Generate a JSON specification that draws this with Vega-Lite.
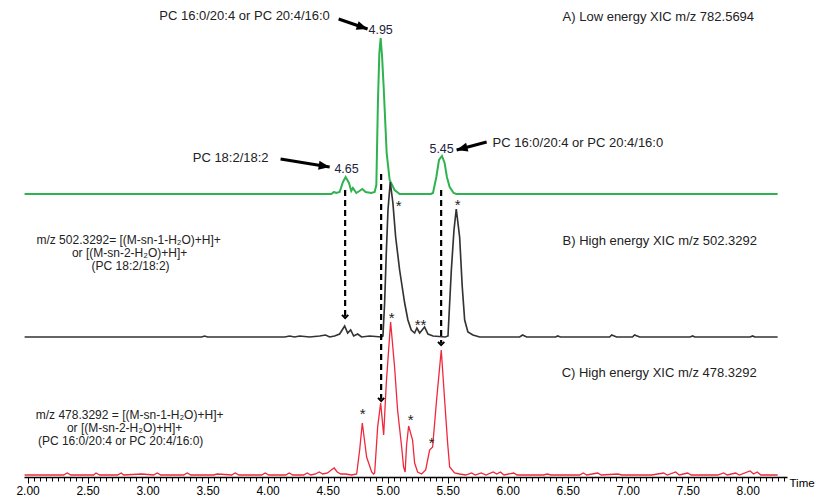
{
  "$schema": "https://vega.github.io/schema/vega-lite/v6.json",
  "width": 763,
  "height": 477,
  "autosize": {"type": "none"},
  "padding": {"left": 24, "top": 0, "right": 28, "bottom": 25},
  "background": "white",
  "config": {"view": {"stroke": null}, "font": "Liberation Sans"},
  "datasets": {
    "traces": [
      {"trace":"A","t":1.975,"v":283},{"trace":"A","t":4.45,"v":283},{"trace":"A","t":4.531,"v":283},{"trace":"A","t":4.553,"v":285},{"trace":"A","t":4.572,"v":284},{"trace":"A","t":4.6,"v":285},{"trace":"A","t":4.628,"v":295},{"trace":"A","t":4.65,"v":300},{"trace":"A","t":4.678,"v":294},{"trace":"A","t":4.697,"v":286},{"trace":"A","t":4.711,"v":289},{"trace":"A","t":4.739,"v":284},{"trace":"A","t":4.765,"v":286},{"trace":"A","t":4.789,"v":288},{"trace":"A","t":4.817,"v":285},{"trace":"A","t":4.864,"v":284},{"trace":"A","t":4.892,"v":285},{"trace":"A","t":4.906,"v":292},{"trace":"A","t":4.919,"v":374},{"trace":"A","t":4.931,"v":424},{"trace":"A","t":4.942,"v":439},{"trace":"A","t":4.954,"v":420},{"trace":"A","t":4.967,"v":390},{"trace":"A","t":4.992,"v":324},{"trace":"A","t":5.017,"v":297},{"trace":"A","t":5.058,"v":287},{"trace":"A","t":5.1,"v":283},{"trace":"A","t":5.36,"v":283},{"trace":"A","t":5.378,"v":284},{"trace":"A","t":5.406,"v":300},{"trace":"A","t":5.428,"v":317},{"trace":"A","t":5.453,"v":321},{"trace":"A","t":5.475,"v":314},{"trace":"A","t":5.494,"v":300},{"trace":"A","t":5.517,"v":290},{"trace":"A","t":5.55,"v":284},{"trace":"A","t":5.572,"v":283},{"trace":"A","t":8.25,"v":283},
      {"trace":"B","t":1.975,"v":140},{"trace":"B","t":3.45,"v":140},{"trace":"B","t":3.475,"v":141},{"trace":"B","t":3.5,"v":140},{"trace":"B","t":4.142,"v":140},{"trace":"B","t":4.183,"v":141},{"trace":"B","t":4.225,"v":140},{"trace":"B","t":4.267,"v":141},{"trace":"B","t":4.35,"v":140},{"trace":"B","t":4.433,"v":141},{"trace":"B","t":4.483,"v":142},{"trace":"B","t":4.517,"v":140},{"trace":"B","t":4.558,"v":141},{"trace":"B","t":4.6,"v":143},{"trace":"B","t":4.642,"v":151},{"trace":"B","t":4.667,"v":144},{"trace":"B","t":4.692,"v":147},{"trace":"B","t":4.717,"v":141},{"trace":"B","t":4.75,"v":143},{"trace":"B","t":4.783,"v":140},{"trace":"B","t":4.85,"v":141},{"trace":"B","t":4.95,"v":140},{"trace":"B","t":4.961,"v":141},{"trace":"B","t":4.975,"v":174},{"trace":"B","t":4.989,"v":224},{"trace":"B","t":5.003,"v":267},{"trace":"B","t":5.022,"v":295},{"trace":"B","t":5.044,"v":274},{"trace":"B","t":5.067,"v":240},{"trace":"B","t":5.1,"v":207},{"trace":"B","t":5.142,"v":174},{"trace":"B","t":5.169,"v":157},{"trace":"B","t":5.197,"v":147},{"trace":"B","t":5.225,"v":144},{"trace":"B","t":5.244,"v":149},{"trace":"B","t":5.267,"v":144},{"trace":"B","t":5.308,"v":150},{"trace":"B","t":5.336,"v":143},{"trace":"B","t":5.378,"v":141},{"trace":"B","t":5.48,"v":140},{"trace":"B","t":5.503,"v":141},{"trace":"B","t":5.531,"v":207},{"trace":"B","t":5.553,"v":247},{"trace":"B","t":5.572,"v":268},{"trace":"B","t":5.6,"v":240},{"trace":"B","t":5.622,"v":190},{"trace":"B","t":5.642,"v":157},{"trace":"B","t":5.669,"v":145},{"trace":"B","t":5.711,"v":142},{"trace":"B","t":5.767,"v":140},{"trace":"B","t":6.1,"v":140},{"trace":"B","t":6.125,"v":142},{"trace":"B","t":6.158,"v":140},{"trace":"B","t":6.4,"v":140},{"trace":"B","t":6.417,"v":141},{"trace":"B","t":6.44,"v":140},{"trace":"B","t":6.85,"v":140},{"trace":"B","t":6.867,"v":142},{"trace":"B","t":6.908,"v":140},{"trace":"B","t":7.04,"v":140},{"trace":"B","t":7.058,"v":142},{"trace":"B","t":7.1,"v":140},{"trace":"B","t":7.52,"v":140},{"trace":"B","t":7.542,"v":141},{"trace":"B","t":7.56,"v":140},{"trace":"B","t":8.02,"v":140},{"trace":"B","t":8.042,"v":141},{"trace":"B","t":8.06,"v":140},{"trace":"B","t":8.25,"v":140},
      {"trace":"C","t":1.975,"v":2},{"trace":"C","t":2.3,"v":2},{"trace":"C","t":2.33,"v":4},{"trace":"C","t":2.36,"v":2},{"trace":"C","t":2.55,"v":2},{"trace":"C","t":2.57,"v":4},{"trace":"C","t":2.6,"v":2},{"trace":"C","t":2.75,"v":2},{"trace":"C","t":2.78,"v":4},{"trace":"C","t":2.8,"v":2},{"trace":"C","t":2.95,"v":3},{"trace":"C","t":3.05,"v":2},{"trace":"C","t":3.08,"v":4},{"trace":"C","t":3.11,"v":2},{"trace":"C","t":3.3,"v":2},{"trace":"C","t":3.33,"v":4},{"trace":"C","t":3.36,"v":2},{"trace":"C","t":3.55,"v":2},{"trace":"C","t":3.58,"v":3},{"trace":"C","t":3.7,"v":2},{"trace":"C","t":3.73,"v":4},{"trace":"C","t":3.76,"v":2},{"trace":"C","t":3.95,"v":2},{"trace":"C","t":3.98,"v":4},{"trace":"C","t":4.01,"v":2},{"trace":"C","t":4.15,"v":2},{"trace":"C","t":4.18,"v":4},{"trace":"C","t":4.21,"v":2},{"trace":"C","t":4.3,"v":2},{"trace":"C","t":4.33,"v":4},{"trace":"C","t":4.36,"v":2},{"trace":"C","t":4.4,"v":3},{"trace":"C","t":4.43,"v":5},{"trace":"C","t":4.46,"v":3},{"trace":"C","t":4.5,"v":4},{"trace":"C","t":4.53,"v":7},{"trace":"C","t":4.555,"v":9},{"trace":"C","t":4.58,"v":5},{"trace":"C","t":4.61,"v":3},{"trace":"C","t":4.65,"v":3},{"trace":"C","t":4.7,"v":2},{"trace":"C","t":4.742,"v":3},{"trace":"C","t":4.767,"v":27},{"trace":"C","t":4.789,"v":54},{"trace":"C","t":4.825,"v":20},{"trace":"C","t":4.867,"v":5},{"trace":"C","t":4.883,"v":3},{"trace":"C","t":4.892,"v":4},{"trace":"C","t":4.917,"v":50},{"trace":"C","t":4.942,"v":74},{"trace":"C","t":4.967,"v":42},{"trace":"C","t":4.989,"v":94},{"trace":"C","t":5.025,"v":155},{"trace":"C","t":5.058,"v":110},{"trace":"C","t":5.083,"v":67},{"trace":"C","t":5.117,"v":30},{"trace":"C","t":5.133,"v":10},{"trace":"C","t":5.146,"v":5},{"trace":"C","t":5.158,"v":32},{"trace":"C","t":5.175,"v":51},{"trace":"C","t":5.208,"v":37},{"trace":"C","t":5.225,"v":14},{"trace":"C","t":5.25,"v":5},{"trace":"C","t":5.283,"v":3},{"trace":"C","t":5.317,"v":7},{"trace":"C","t":5.35,"v":27},{"trace":"C","t":5.375,"v":30},{"trace":"C","t":5.408,"v":77},{"trace":"C","t":5.447,"v":127},{"trace":"C","t":5.475,"v":77},{"trace":"C","t":5.5,"v":34},{"trace":"C","t":5.517,"v":10},{"trace":"C","t":5.558,"v":4},{"trace":"C","t":5.6,"v":3},{"trace":"C","t":5.65,"v":2},{"trace":"C","t":5.7,"v":4},{"trace":"C","t":5.73,"v":2},{"trace":"C","t":5.78,"v":4},{"trace":"C","t":5.82,"v":2},{"trace":"C","t":5.88,"v":5},{"trace":"C","t":5.91,"v":3},{"trace":"C","t":5.94,"v":5},{"trace":"C","t":5.97,"v":2},{"trace":"C","t":6.05,"v":4},{"trace":"C","t":6.08,"v":2},{"trace":"C","t":6.3,"v":2},{"trace":"C","t":6.33,"v":3},{"trace":"C","t":6.36,"v":2},{"trace":"C","t":6.6,"v":2},{"trace":"C","t":6.63,"v":4},{"trace":"C","t":6.66,"v":2},{"trace":"C","t":6.75,"v":4},{"trace":"C","t":6.78,"v":2},{"trace":"C","t":6.92,"v":3},{"trace":"C","t":6.95,"v":2},{"trace":"C","t":7.2,"v":2},{"trace":"C","t":7.3,"v":4},{"trace":"C","t":7.33,"v":2},{"trace":"C","t":7.4,"v":5},{"trace":"C","t":7.43,"v":2},{"trace":"C","t":7.5,"v":4},{"trace":"C","t":7.53,"v":2},{"trace":"C","t":7.75,"v":2},{"trace":"C","t":7.8,"v":4},{"trace":"C","t":7.83,"v":2},{"trace":"C","t":7.9,"v":4},{"trace":"C","t":7.93,"v":2},{"trace":"C","t":8.02,"v":6},{"trace":"C","t":8.05,"v":3},{"trace":"C","t":8.08,"v":5},{"trace":"C","t":8.11,"v":2},{"trace":"C","t":8.25,"v":2}
    ],
    "dashes": [
      {"t":4.646,"v":287,"v2":161},
      {"t":4.946,"v":303,"v2":78},
      {"t":5.446,"v":287,"v2":134}
    ],
    "arrows": [
      {"name":"a1","t":4.592,"v":458,"t2":4.833,"v2":448},
      {"name":"a2","t":4.108,"v":318,"t2":4.517,"v2":310},
      {"name":"a3","t":5.825,"v":335,"t2":5.575,"v2":327}
    ],
    "heads": [
      {"kind":"dash","t":4.646,"v":159},
      {"kind":"dash","t":4.946,"v":76},
      {"kind":"dash","t":5.446,"v":132},
      {"kind":"a1","t":4.833,"v":448},
      {"kind":"a2","t":4.517,"v":310},
      {"kind":"a3","t":5.575,"v":327}
    ],
    "labels": [
      {"kind":"left","text":"A) Low energy XIC m/z 782.5694","t":6.458,"v":460},
      {"kind":"left","text":"B) High energy XIC m/z 502.3292","t":6.458,"v":236},
      {"kind":"left","text":"C) High energy XIC m/z 478.3292","t":6.45,"v":104},
      {"kind":"left","text":"PC 16:0/20:4 or PC 20:4/16:0","t":5.875,"v":334},
      {"kind":"center","text":"PC 16:0/20:4 or PC 20:4/16:0","t":3.808,"v":461},
      {"kind":"center","text":"PC 18:2/18:2","t":3.692,"v":319},
      {"kind":"block","text":"m/z 502.3292= [(M-sn-1-H₂O)+H]+","t":2.842,"v":237},
      {"kind":"block","text":"or [(M-sn-2-H₂O)+H]+","t":2.85,"v":224},
      {"kind":"block","text":"(PC 18:2/18:2)","t":2.858,"v":211},
      {"kind":"block","text":"m/z 478.3292 = [(M-sn-1-H₂O)+H]+","t":2.85,"v":62},
      {"kind":"block","text":"or [(M-sn-2-H₂O)+H]+","t":2.808,"v":49},
      {"kind":"block","text":"(PC 16:0/20:4 or PC 20:4/16:0)","t":2.775,"v":36},
      {"kind":"peak","text":"4.95","t":4.942,"v":447},
      {"kind":"peak","text":"4.65","t":4.658,"v":308},
      {"kind":"peak","text":"5.45","t":5.45,"v":328},
      {"kind":"star","text":"*","t":5.092,"v":274},
      {"kind":"star","text":"*","t":5.583,"v":275},
      {"kind":"star","text":"**","t":5.275,"v":155},
      {"kind":"star","text":"*","t":5.033,"v":162},
      {"kind":"star","text":"*","t":4.792,"v":66},
      {"kind":"star","text":"*","t":5.192,"v":60},
      {"kind":"star","text":"*","t":5.367,"v":37}
    ]
  },
  "encoding": {
    "x": {
      "field": "t", "type": "quantitative",
      "scale": {"domain": [1.97, 8.328], "nice": false, "zero": false},
      "axis": {
        "values": [2,2.05,2.1,2.15,2.2,2.25,2.3,2.35,2.4,2.45,2.5,2.55,2.6,2.65,2.7,2.75,2.8,2.85,2.9,2.95,3,3.05,3.1,3.15,3.2,3.25,3.3,3.35,3.4,3.45,3.5,3.55,3.6,3.65,3.7,3.75,3.8,3.85,3.9,3.95,4,4.05,4.1,4.15,4.2,4.25,4.3,4.35,4.4,4.45,4.5,4.55,4.6,4.65,4.7,4.75,4.8,4.85,4.9,4.95,5,5.05,5.1,5.15,5.2,5.25,5.3,5.35,5.4,5.45,5.5,5.55,5.6,5.65,5.7,5.75,5.8,5.85,5.9,5.95,6,6.05,6.1,6.15,6.2,6.25,6.3,6.35,6.4,6.45,6.5,6.55,6.6,6.65,6.7,6.75,6.8,6.85,6.9,6.95,7,7.05,7.1,7.15,7.2,7.25,7.3,7.35,7.4,7.45,7.5,7.55,7.6,7.65,7.7,7.75,7.8,7.85,7.9,7.95,8,8.05,8.1,8.15,8.2,8.25,8.3],
        "labelExpr": "abs(datum.value*2 - round(datum.value*2)) < 0.01 ? format(datum.value, '.2f') : ''",
        "labelOverlap": false,
        "labelFlush": false,
        "tickSize": {"condition": {"test": "abs(datum.value*2 - round(datum.value*2)) < 0.01", "value": 6}, "value": 4},
        "tickColor": "#000",
        "tickWidth": 1,
        "domainColor": "#000",
        "domainWidth": 1.5,
        "labelColor": "#000",
        "labelFont": "Liberation Sans",
        "labelFontSize": 12,
        "labelPadding": 2,
        "grid": false,
        "title": "Time",
        "titleFont": "Liberation Sans",
        "titleFontSize": 11.5,
        "titleFontWeight": "normal",
        "titleColor": "#000",
        "titleAngle": 0,
        "titleX": 765,
        "titleY": 6,
        "titleAlign": "left",
        "titleBaseline": "middle"
      }
    },
    "y": {
      "field": "v", "type": "quantitative",
      "scale": {"domain": [0, 477], "nice": false, "zero": false},
      "axis": null
    }
  },
  "layer": [
    {
      "data": {"name": "traces"},
      "mark": {"type": "line", "interpolate": "linear"},
      "encoding": {
        "color": {"field": "trace", "type": "nominal", "scale": {"domain": ["A","B","C"], "range": ["#2eb34f","#333333","#f0283c"]}, "legend": null},
        "strokeWidth": {"field": "trace", "type": "nominal", "scale": {"domain": ["A","B","C"], "range": [2, 1.3, 1.4]}, "legend": null}
      }
    },
    {
      "data": {"name": "dashes"},
      "mark": {"type": "rule", "strokeDash": [6, 4], "strokeWidth": 2.2, "color": "#000"},
      "encoding": {"y2": {"field": "v2"}}
    },
    {
      "data": {"name": "heads"},
      "transform": [{"filter": "datum.kind == 'dash'"}],
      "mark": {"type": "point", "shape": "M-1,-1L0,0L1,-1", "filled": false, "stroke": "#000", "strokeWidth": 2, "size": 40, "opacity": 1}
    },
    {
      "data": {"name": "arrows"},
      "mark": {"type": "rule", "strokeWidth": 3, "color": "#000"},
      "encoding": {"x2": {"field": "t2"}, "y2": {"field": "v2"}}
    },
    {
      "data": {"name": "heads"},
      "transform": [{"filter": "datum.kind == 'a1'"}],
      "mark": {"type": "point", "shape": "M0,0L-2.2,-0.9L-2.2,0.9Z", "filled": true, "color": "#000", "size": 100, "angle": 19, "opacity": 1}
    },
    {
      "data": {"name": "heads"},
      "transform": [{"filter": "datum.kind == 'a2'"}],
      "mark": {"type": "point", "shape": "M0,0L-2.2,-0.9L-2.2,0.9Z", "filled": true, "color": "#000", "size": 100, "angle": 9, "opacity": 1}
    },
    {
      "data": {"name": "heads"},
      "transform": [{"filter": "datum.kind == 'a3'"}],
      "mark": {"type": "point", "shape": "M0,0L-2.2,-0.9L-2.2,0.9Z", "filled": true, "color": "#000", "size": 100, "angle": 165, "opacity": 1}
    },
    {
      "data": {"name": "labels"},
      "transform": [{"filter": "datum.kind == 'left'"}],
      "mark": {"type": "text", "align": "left", "baseline": "middle", "fontSize": 13, "font": "Liberation Sans", "color": "#222"},
      "encoding": {"text": {"field": "text"}}
    },
    {
      "data": {"name": "labels"},
      "transform": [{"filter": "datum.kind == 'center'"}],
      "mark": {"type": "text", "align": "center", "baseline": "middle", "fontSize": 13, "font": "Liberation Sans", "color": "#222"},
      "encoding": {"text": {"field": "text"}}
    },
    {
      "data": {"name": "labels"},
      "transform": [{"filter": "datum.kind == 'block'"}],
      "mark": {"type": "text", "align": "center", "baseline": "middle", "fontSize": 12, "font": "Liberation Sans", "color": "#222"},
      "encoding": {"text": {"field": "text"}}
    },
    {
      "data": {"name": "labels"},
      "transform": [{"filter": "datum.kind == 'peak'"}],
      "mark": {"type": "text", "align": "center", "baseline": "middle", "fontSize": 12.5, "font": "Liberation Sans", "color": "#1c2340"},
      "encoding": {"text": {"field": "text"}}
    },
    {
      "data": {"name": "labels"},
      "transform": [{"filter": "datum.kind == 'star'"}],
      "mark": {"type": "text", "align": "center", "baseline": "middle", "dy": 3, "fontSize": 15, "font": "Liberation Sans", "color": "#222"},
      "encoding": {"text": {"field": "text"}}
    }
  ]
}
